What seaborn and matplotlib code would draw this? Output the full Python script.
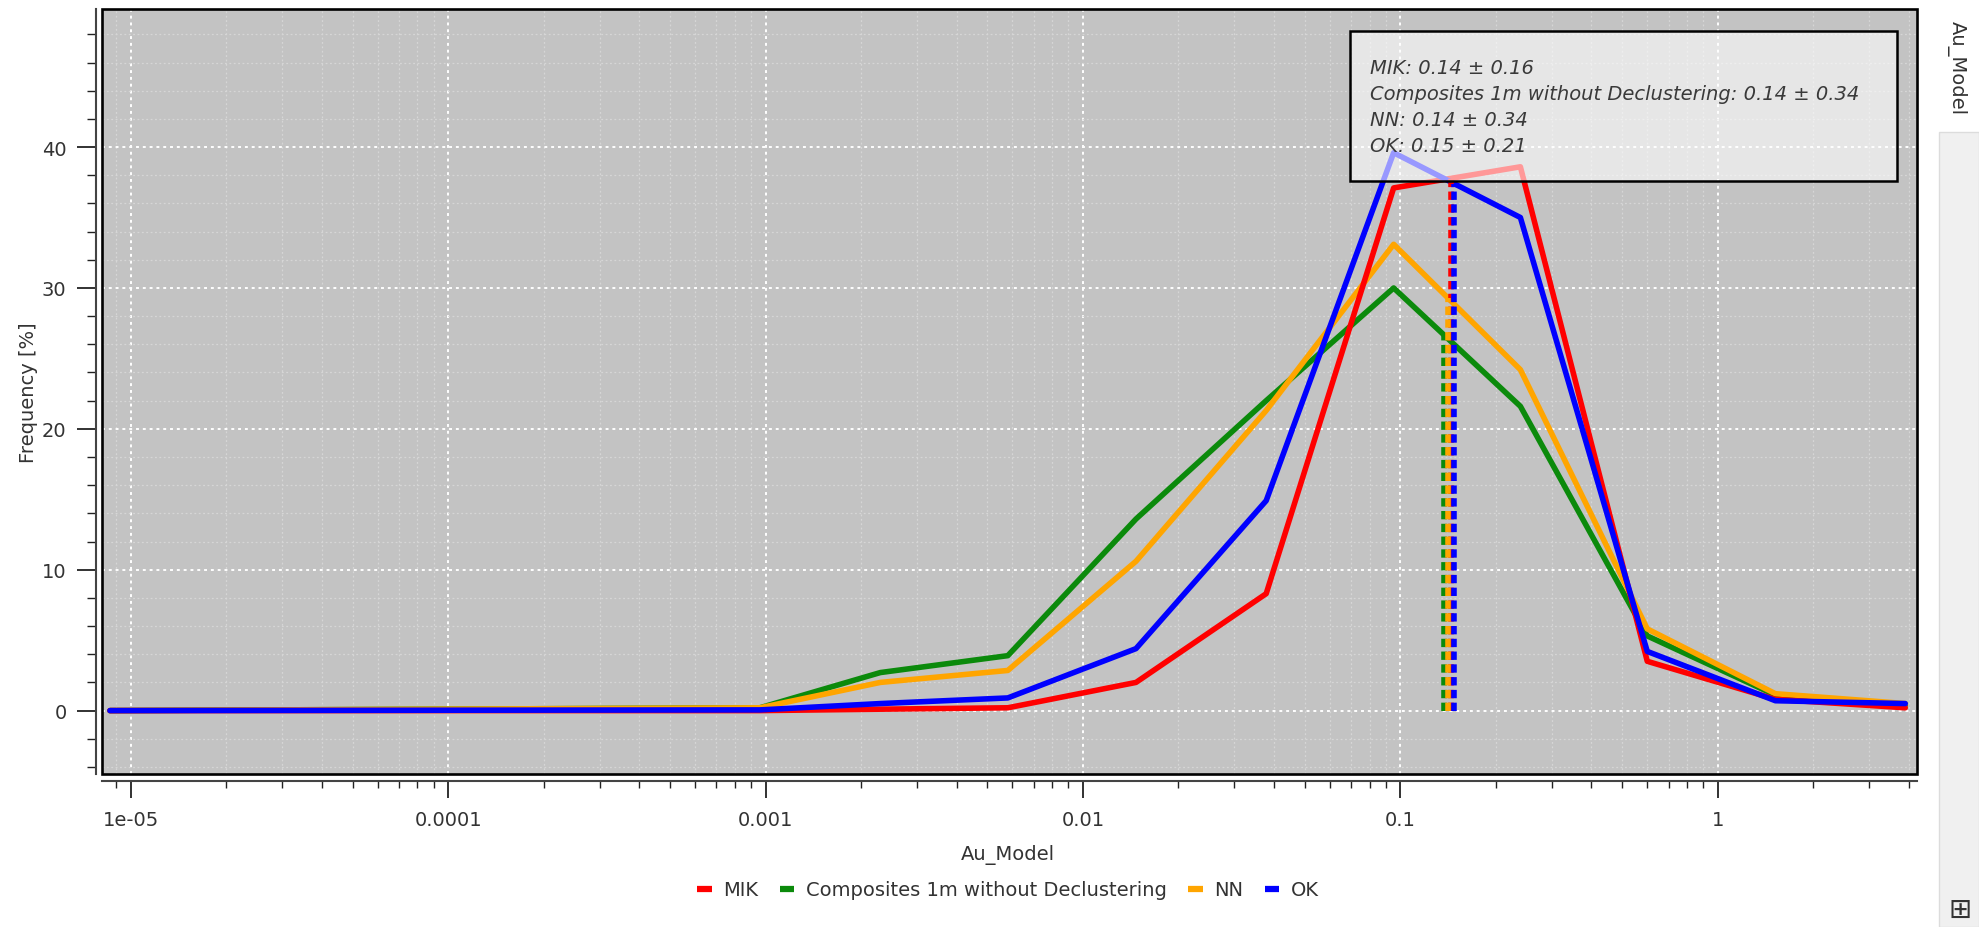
import numpy as np
import pandas as pd
import matplotlib
matplotlib.use("Agg")
import matplotlib.pyplot as plt
import seaborn as sns
from matplotlib.ticker import MultipleLocator, LogLocator, NullFormatter
from matplotlib.patches import Rectangle
from matplotlib.lines import Line2D

# ---------------- data ----------------
x_bins = [8.6e-06, 9.6e-04, 2.3e-03, 5.8e-03, 1.47e-02, 3.78e-02,
          9.53e-02, 2.39e-01, 6.0e-01, 1.52, 3.9]
series_names = ["MIK", "Composites 1m without Declustering", "NN", "OK"]
freq_mik = [0.0, 0.0, 0.1, 0.2, 2.0, 8.3, 37.1, 38.6, 3.5, 0.8, 0.2]
freq_comp = [0.0, 0.2, 2.7, 3.9, 13.6, 22.0, 30.0, 21.6, 5.3, 1.1, 0.4]
freq_nn = [0.0, 0.2, 2.0, 2.85, 10.6, 21.3, 33.1, 24.2, 5.8, 1.2, 0.5]
freq_ok = [0.0, 0.05, 0.5, 0.9, 4.4, 14.9, 39.6, 35.0, 4.2, 0.7, 0.5]
means = [0.144, 0.137, 0.141, 0.148]
stds = [0.16, 0.34, 0.34, 0.21]
colors = ["#ff0000", "#0b8a0b", "#ffa500", "#0000ff"]
x_tick_vals = [1e-05, 1e-04, 1e-03, 1e-02, 1e-01, 1]
x_tick_labels = ["1e-05", "0.0001", "0.001", "0.01", "0.1", "1"]
y_tick_vals = [0, 10, 20, 30, 40]

freqs = [freq_mik, freq_comp, freq_nn, freq_ok]
rows = []
for name, f in zip(series_names, freqs):
    for xv, yv in zip(x_bins, f):
        rows.append({"Au_Model": xv, "Frequency": yv, "series": name})
df = pd.DataFrame(rows)

# ---------------- figure ----------------
sns.set_theme(style="white")
plt.rcParams["font.family"] = ["DejaVu Sans"]

W, H = 1979, 928
fig = plt.figure(figsize=(W / 100, H / 100), dpi=100)
fig.patch.set_facecolor("white")
L, R, T, B = 102, 1917, 10, 775
ax = fig.add_axes([L / W, 1 - B / H, (R - L) / W, (B - T) / H])
ax.set_facecolor("#c3c3c3")

LW = 4.0
pal = dict(zip(series_names, colors))
sns.lineplot(data=df, x="Au_Model", y="Frequency", hue="series",
             hue_order=series_names, palette=pal, sort=False,
             estimator=None, linewidth=LW, ax=ax, legend=False, zorder=3)
for line, z in zip(ax.lines, [3.2, 3.0, 3.1, 3.4]):
    line.set_zorder(z)

ax.set_xscale("log")
ax.set_xlim(10 ** -5.0905, 10 ** 0.628)
ax.set_ylim(-4.5, 49.8)

# mean lines (dotted, from 0 up to the curve)
logx = np.log10(x_bins)
order = [1, 2, 0, 3]
for i in order:
    top = np.interp(np.log10(means[i]), logx, freqs[i])
    ax.vlines(means[i], 0, top, colors=colors[i], linewidth=LW,
              linestyles=[(0, (1.5, 0.8))], zorder=4 + i * 0.01)

# ticks
ax.set_xticks(x_tick_vals)
ax.set_xticklabels(x_tick_labels)
ax.xaxis.set_minor_locator(LogLocator(base=10, subs=np.arange(2, 10), numticks=50))
ax.xaxis.set_minor_formatter(NullFormatter())
ax.set_yticks(y_tick_vals)
ax.yaxis.set_minor_locator(MultipleLocator(2))

ax.tick_params(axis="x", which="major", length=12, width=1.3, color="#222",
               labelsize=14, labelcolor="#333", pad=9, bottom=True)
ax.tick_params(axis="x", which="minor", length=5, width=1.0, color="#222", bottom=True)
ax.tick_params(axis="y", which="major", length=13.5, width=1.3, color="#222",
               labelsize=14, labelcolor="#333", pad=8, left=True)
ax.tick_params(axis="y", which="minor", length=6.5, width=1.0, color="#222", left=True)

# grid
ax.set_axisbelow(True)
ax.grid(which="minor", color="#d6d6d6", linestyle=(0, (1.5, 2.0)), linewidth=0.9)
ax.grid(which="major", color="white", linestyle=(0, (1.5, 2.0)), linewidth=1.4)

# spines: offset axis lines + separate frame
for s in ["top", "right"]:
    ax.spines[s].set_visible(False)
ax.spines["left"].set_position(("outward", 4))
ax.spines["bottom"].set_position(("outward", 4.8))
for s in ["left", "bottom"]:
    ax.spines[s].set_color("#444")
    ax.spines[s].set_linewidth(1.5)
ax.add_patch(Rectangle((0, 0), 1, 1, transform=ax.transAxes, fill=False,
                       edgecolor="black", linewidth=1.9, clip_on=False, zorder=6))

ax.set_xlabel("")
ax.set_ylabel("")
fig.text(28 / W, 1 - 393 / H, "Frequency [%]", rotation=90, ha="center",
         va="center", fontsize=14, color="#333")
fig.text(1008 / W, 1 - 855 / H, "Au_Model", ha="center", va="center",
         fontsize=14, color="#333")

# stats box
bx0, bx1, by0, by1 = 1350, 1897, 32, 182
def axx(px):
    return (px - L) / (R - L)
def axy(py):
    return (B - py) / (B - T)
ax.add_patch(Rectangle((axx(bx0), axy(by1)), axx(bx1) - axx(bx0), axy(by0) - axy(by1),
                       transform=ax.transAxes, facecolor="white", alpha=0.6,
                       edgecolor="none", zorder=7))
ax.add_patch(Rectangle((axx(bx0), axy(by1)), axx(bx1) - axx(bx0), axy(by0) - axy(by1),
                       transform=ax.transAxes, fill=False, edgecolor="black",
                       linewidth=1.8, zorder=8))
line_y = [69, 95, 121, 147]
for name, m, s, py in zip(series_names, means, stds, line_y):
    ax.text(axx(1370), axy(py), f"{name}: {m:.2f} \u00b1 {s:.2f}",
            transform=ax.transAxes, ha="left", va="center", fontsize=14,
            style="italic", color="#3a3a3a", zorder=9)

# bottom legend
handles = [Line2D([], [], color=c, linewidth=4.5, solid_capstyle="butt") for c in colors]
fig.legend(handles, series_names, loc="center", ncol=4, frameon=False,
           bbox_to_anchor=(1008 / W, 1 - 891 / H), fontsize=14,
           handlelength=0.75, handletextpad=0.6, columnspacing=1.1,
           labelcolor="#333")

# right side panel
fig.patches.append(Rectangle((1939 / W, 0), 1 - 1939 / W, 1 - 133 / H,
                             transform=fig.transFigure, facecolor="#f0f0f0",
                             edgecolor="#dcdcdc", linewidth=1.0, zorder=0))
fig.text(1957 / W, 1 - 68 / H, "Au_Model", rotation=-90, ha="center",
         va="center", fontsize=14, color="#333")
fig.text(1960 / W, 1 - 910 / H, "\u229e", ha="center", va="center",
         fontsize=20, color="#333")

fig.savefig("out.png", dpi=100, facecolor="white")
